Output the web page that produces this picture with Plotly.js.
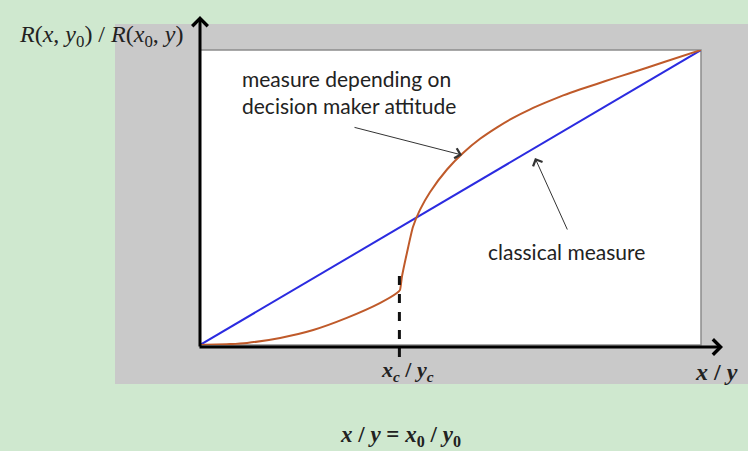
<!DOCTYPE html>
<html>
<head>
<meta charset="utf-8">
<script src="https://cdn.plot.ly/plotly-3.0.1.min.js"></script>
<style>html,body{margin:0;padding:0;background:#cfe8cf;}#chart{width:748px;height:451px;}</style>
</head>
<body>
<div id="chart"></div>
<script>
// Data (normalized: x/y from 0 to 1, R ratio from 0 to 1)
const classicalX = [0, 1];
const classicalY = [0, 1];
const attitudeX = [0, 0.06, 0.094, 0.16, 0.226, 0.293, 0.359, 0.393, 0.399, 0.403, 0.413, 0.425, 0.439, 0.459, 0.493, 0.525, 0.559, 0.593, 0.625, 0.659, 0.693, 0.725, 0.758, 0.792, 0.824, 0.858, 0.928, 1];
const attitudeY = [0, 0.003, 0.007, 0.024, 0.051, 0.092, 0.142, 0.176, 0.186, 0.231, 0.312, 0.4, 0.458, 0.518, 0.595, 0.651, 0.699, 0.738, 0.770, 0.799, 0.824, 0.846, 0.866, 0.885, 0.903, 0.921, 0.960, 1];
const xc = 0.398;
const labels = {
  yTitle: "<i>R</i>(<i>x</i>, <i>y</i><sub>0</sub>) / <i>R</i>(<i>x</i><sub>0</sub>, <i>y</i>)",
  xTitle: "<b><i>x</i> / <i>y</i></b>",
  xcLabel: "<b><i>x<sub>c</sub></i> / <i>y<sub>c</sub></i></b>",
  bottom: "<b><i>x</i> / <i>y</i> = <i>x</i><sub>0</sub> / <i>y</i><sub>0</sub></b>",
  attitude: "measure depending on<br>decision maker attitude",
  classical: "classical measure"
};

// pixel helpers for layout placement (plot area 200..701 x, 50..345 y)
const L = 200, R = 701, T = 50, B = 345;
const px = p => (p - L) / (R - L);
const py = p => (B - p) / (B - T);

const serif = "Liberation Serif, Times New Roman, serif";
const sans = "Lato, Open Sans, sans-serif";

const traces = [
  {x: classicalX, y: classicalY, mode: 'lines', line: {color: '#2b2be0', width: 2}, hoverinfo: 'skip'},
  {x: attitudeX, y: attitudeY, mode: 'lines', line: {color: '#bf5a2a', width: 2, shape: 'spline', smoothing: 0.5}, hoverinfo: 'skip'}
];

const layout = {
  width: 748, height: 451,
  margin: {l: L, r: 748 - R, t: T, b: 451 - B, pad: 0},
  paper_bgcolor: '#cfe8cf',
  plot_bgcolor: 'rgba(0,0,0,0)',
  showlegend: false,
  xaxis: {range: [0, 1], showgrid: false, zeroline: false, showticklabels: false, showline: false, ticks: '', fixedrange: true},
  yaxis: {range: [0, 1], showgrid: false, zeroline: false, showticklabels: false, showline: false, ticks: '', fixedrange: true},
  shapes: [
    {type: 'rect', xref: 'paper', yref: 'paper', x0: px(115), x1: px(760), y0: py(384), y1: py(24), fillcolor: '#c9c9c9', line: {width: 0}, layer: 'below'},
    {type: 'rect', xref: 'paper', yref: 'paper', x0: 0, x1: 1, y0: 0, y1: 1, fillcolor: '#ffffff', line: {color: '#8c8c8c', width: 1.5}, layer: 'below'},
    {type: 'line', xref: 'paper', yref: 'paper', x0: xc, x1: xc, y0: py(357), y1: py(267), line: {color: '#111', width: 3, dash: 'dash'}}
  ],
  annotations: [
    // axes with arrows
    {xref: 'paper', yref: 'paper', axref: 'pixel', ayref: 'pixel', x: 0, y: py(16), ax: 0, ay: 332, showarrow: true, arrowhead: 4, arrowsize: 1, arrowwidth: 3, arrowcolor: '#000', text: ''},
    {xref: 'paper', yref: 'paper', axref: 'pixel', ayref: 'pixel', x: px(723), y: py(347), ax: -525, ay: 0, showarrow: true, arrowhead: 4, arrowsize: 1, arrowwidth: 3, arrowcolor: '#000', text: ''},
    // pointer arrows
    {xref: 'x', yref: 'y', axref: 'x', ayref: 'y', x: px(462), y: py(155), ax: px(353), ay: py(127), showarrow: true, arrowhead: 4, arrowsize: 2, arrowwidth: 1, arrowcolor: '#333', text: ''},
    {xref: 'x', yref: 'y', axref: 'x', ayref: 'y', x: px(535), y: py(158), ax: px(568), ay: py(231), showarrow: true, arrowhead: 4, arrowsize: 2, arrowwidth: 1, arrowcolor: '#333', text: ''},
    // texts
    {xref: 'paper', yref: 'paper', x: px(101), y: py(36), xanchor: 'center', yanchor: 'middle', showarrow: false, text: labels.yTitle, font: {family: serif, size: 24, color: '#222'}},
    {xref: 'paper', yref: 'paper', x: px(716), y: py(372), xanchor: 'center', yanchor: 'middle', showarrow: false, text: labels.xTitle, font: {family: serif, size: 24, color: '#222'}},
    {xref: 'paper', yref: 'paper', x: px(407), y: py(371), xanchor: 'center', yanchor: 'middle', showarrow: false, text: labels.xcLabel, font: {family: serif, size: 22, color: '#222'}},
    {xref: 'paper', yref: 'paper', x: px(400), y: py(436), xanchor: 'center', yanchor: 'middle', showarrow: false, text: labels.bottom, font: {family: serif, size: 23, color: '#222'}},
    {xref: 'paper', yref: 'paper', x: px(240), y: py(92), xanchor: 'left', yanchor: 'middle', align: 'left', showarrow: false, text: labels.attitude, font: {family: sans, size: 21, color: '#222'}},
    {xref: 'paper', yref: 'paper', x: px(486), y: py(251), xanchor: 'left', yanchor: 'middle', showarrow: false, text: labels.classical, font: {family: sans, size: 21, color: '#222'}}
  ]
};

Plotly.newPlot('chart', traces, layout, {staticPlot: true, displayModeBar: false});
</script>
</body>
</html>
